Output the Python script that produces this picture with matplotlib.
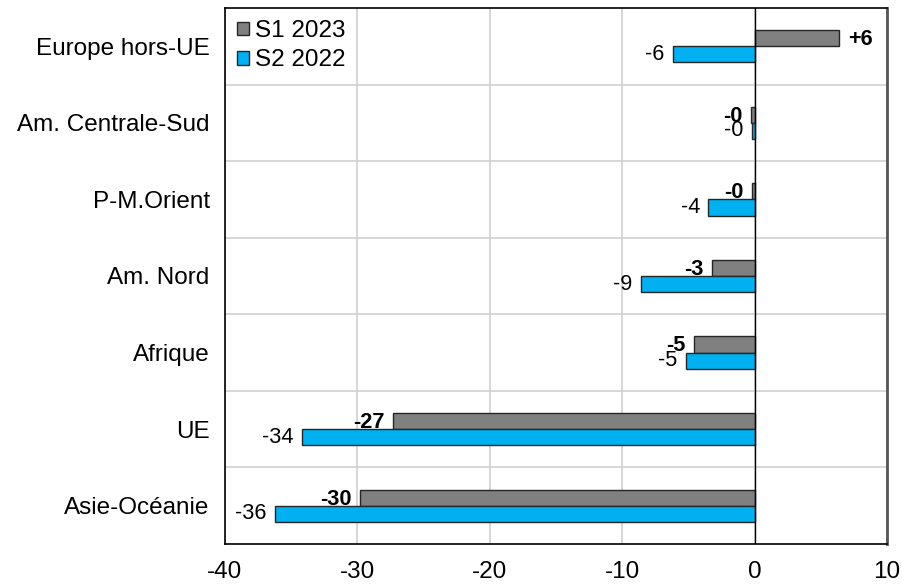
import matplotlib.pyplot as plt
import numpy as np

plt.rcParams['font.family'] = ['Liberation Sans', 'DejaVu Sans']

# données
categories = ['Europe hors-UE', 'Am. Centrale-Sud', 'P-M.Orient', 'Am. Nord',
              'Afrique', 'UE', 'Asie-Océanie']
s1_2023 = [6.4, -0.3, -0.2, -3.2, -4.6, -27.3, -29.8]
s2_2022 = [-6.2, -0.2, -3.5, -8.6, -5.2, -34.2, -36.2]
xticks = [-40, -30, -20, -10, 0, 10]

fig = plt.figure(figsize=(9.02, 5.84), dpi=100)
ax = fig.add_axes([0.2494, 0.0685, 0.734, 0.9178])

y = np.arange(len(categories))
h = 0.21
grey = '#808080'
blue = '#00B0F0'

ax.barh(y - h / 2, s1_2023, height=h, color=grey, edgecolor='#262626',
        linewidth=1, label='S1 2023', zorder=3)
ax.barh(y + h / 2, s2_2022, height=h, color=blue, edgecolor='#262626',
        linewidth=1, label='S2 2022', zorder=5)

# étiquettes
for yi, v in zip(y, s1_2023):
    off = 6 if v >= 0 else -6
    ax.annotate(f"{v:+.0f}", (v, yi - h / 2), xytext=(off, -1),
                textcoords='offset points', ha='left' if v >= 0 else 'right',
                va='center', fontsize=15.7, fontweight='bold', zorder=4)
for yi, v in zip(y, s2_2022):
    ax.annotate(f"{v:.0f}", (v, yi + h / 2), xytext=(-6, 0),
                textcoords='offset points', ha='right', va='center',
                fontsize=15.7, zorder=6)

ax.set_xlim(-40, 10)
ax.set_ylim(len(categories) - 0.5, -0.5)
ax.set_xticks(xticks)
ax.set_xticklabels([str(t) for t in xticks])
ax.set_yticks(y)
ax.set_yticklabels(categories)
ax.set_yticks(np.arange(len(categories) - 1) + 0.5, minor=True)

ax.tick_params(axis='both', which='both', length=0, labelsize=17.5)
ax.tick_params(axis='y', pad=11)
ax.tick_params(axis='x', pad=12)

ax.grid(axis='x', which='major', color='#d0d0d0', linewidth=1.2, zorder=0)
ax.grid(axis='y', which='minor', color='#d0d0d0', linewidth=1.2, zorder=0)
ax.axvline(0, color='black', linewidth=1, zorder=6)

for s in ['left', 'top', 'bottom']:
    ax.spines[s].set_color('black')
    ax.spines[s].set_linewidth(1.2)
ax.spines['right'].set_color('#555555')
ax.spines['right'].set_linewidth(2)

ax.legend(loc='upper left', frameon=False, fontsize=17.5, handlelength=0.5,
          handleheight=0.5, handletextpad=0.25, labelspacing=0.3,
          borderaxespad=0.3, borderpad=0.2)

fig.savefig('out.png', dpi=100)
